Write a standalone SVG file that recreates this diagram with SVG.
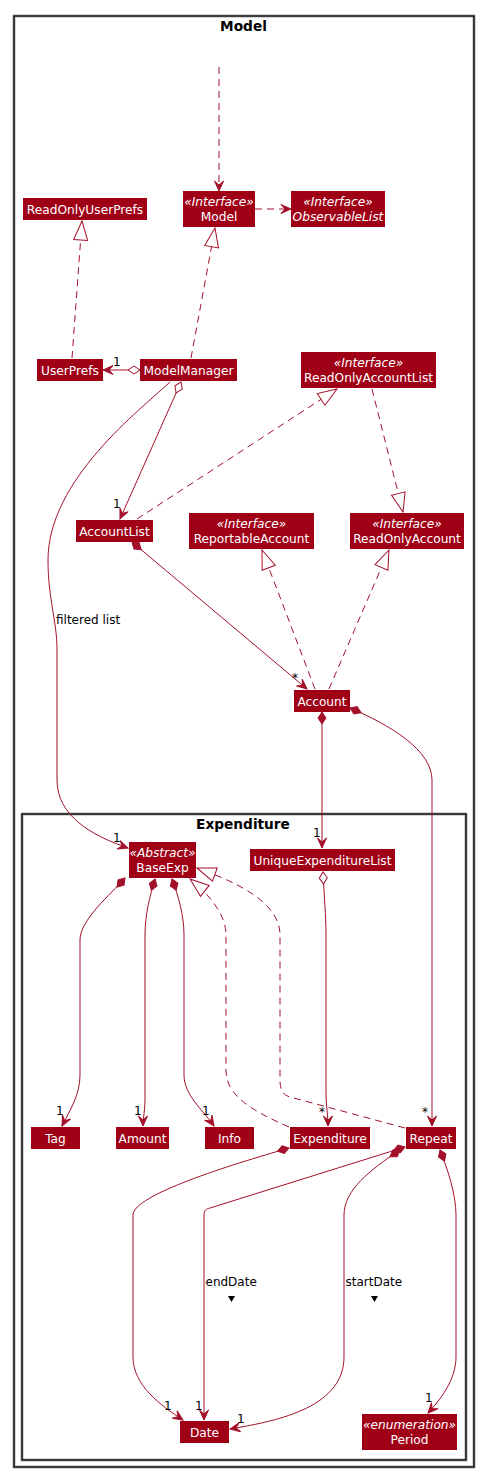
<svg xmlns="http://www.w3.org/2000/svg" width="483" height="1477" viewBox="0 0 483 1477">
<style>
.n{fill:#A00016}
.t{font-family:"DejaVu Sans","Liberation Sans",sans-serif;font-size:12.2px;fill:#fff;text-anchor:middle}
.i{font-style:italic}
.e{fill:none;stroke:#A3102A;stroke-width:1}
.d{stroke-dasharray:7,5}
.lb{font-family:"DejaVu Sans","Liberation Sans",sans-serif;font-size:12px;fill:#000}
.ti{font-family:"DejaVu Sans","Liberation Sans",sans-serif;font-size:13.7px;font-weight:bold;fill:#000;text-anchor:middle}
.fr{fill:none;stroke:#000;stroke-width:1.3}
.frs{fill:none;stroke:#aaa;stroke-width:3}
.ca{marker-end:url(#arr)}
.ct{marker-end:url(#tri)}
.cd{marker-start:url(#dia)}
.co{marker-start:url(#odia)}
</style>
<defs>
<marker id="arr" markerUnits="userSpaceOnUse" orient="auto" overflow="visible" markerWidth="1" markerHeight="1"><path d="M0,0 L-10,-4.5 L-6,0 L-10,4.5 Z" fill="#A3102A" stroke="#A3102A" stroke-width="1"/></marker>
<marker id="tri" markerUnits="userSpaceOnUse" orient="auto" overflow="visible" markerWidth="1" markerHeight="1"><path d="M0,0 L-19,-7 L-19,7 Z" fill="#fff" stroke="#A3102A" stroke-width="1"/></marker>
<marker id="dia" markerUnits="userSpaceOnUse" orient="auto" overflow="visible" markerWidth="1" markerHeight="1"><path d="M0,0 L6,-4 L12,0 L6,4 Z" fill="#A3102A" stroke="#A3102A" stroke-width="1"/></marker>
<marker id="odia" markerUnits="userSpaceOnUse" orient="auto" overflow="visible" markerWidth="1" markerHeight="1"><path d="M0,0 L6,-4 L12,0 L6,4 Z" fill="#fff" stroke="#A3102A" stroke-width="1"/></marker>
</defs>

<g id="frame-model">
<rect class="frs" x="14" y="16" width="460" height="1451"/>
<rect class="fr" x="14" y="16" width="460" height="1451"/>
<text class="ti" x="243.5" y="31">Model</text>
</g>
<g id="frame-expenditure">
<rect class="frs" x="22" y="814" width="444" height="646"/>
<rect class="fr" x="22" y="814" width="444" height="646"/>
<text class="ti" x="243" y="829">Expenditure</text>
</g>

<g id="connectors">
<path class="e d ca" d="M219,67 L219,191"/>
<path class="e d ca" d="M255,209 L291,209"/>
<path class="e d ct" d="M72,358 L82,221"/>
<path class="e d ct" d="M191,358 L215,228"/>
<path class="e co ca" d="M140,370 L103,370"/>
<path class="e co ca" d="M181,382 L120,519"/>
<path class="e ca" d="M170,382 C140,410 48,480 48,560 C48,600 57,620 57,650 L57,780 C57,815 90,835 128,848"/>
<path class="e d ct" d="M137,519 L337,389"/>
<path class="e d ct" d="M372,389 L403,512"/>
<path class="e cd ca" d="M132,542 L307,689"/>
<path class="e d ct" d="M315,689 L262,550"/>
<path class="e d ct" d="M329,689 L389,550"/>
<path class="e cd ca" d="M322,712 L322,848"/>
<path class="e cd ca" d="M350,708 C390,725 432,750 432,780 L432,1126"/>
<path class="e cd ca" d="M125,878 C110,895 80,920 80,940 L80,1075 C80,1095 70,1110 62,1126"/>
<path class="e cd ca" d="M155,879 C150,895 145,915 145,935 L145,1100 C145,1110 143,1118 143,1126"/>
<path class="e cd ca" d="M172,879 C178,895 184,915 184,935 L184,1075 C184,1095 203,1110 214,1126"/>
<path class="e d ct" d="M289,1127 C250,1110 226,1095 226,1070 L226,935 C226,915 210,895 190,879"/>
<path class="e d ct" d="M405,1128 L290,1097 C283,1095 280,1090 280,1080 L280,935 C280,900 230,880 197,868"/>
<path class="e co ca" d="M323,872 C324,895 326,915 326,935 L326,1095 C326,1105 328,1115 328,1126"/>
<path class="e cd ca" d="M289,1148 C230,1165 133,1195 133,1215 L133,1357 C133,1385 160,1405 183,1420"/>
<path class="e cd ca" d="M405,1147 L210,1208 C206,1209 204,1210 204,1215 L204,1420"/>
<path class="e cd ca" d="M400,1150 C370,1170 344,1190 344,1215 L344,1357 C344,1410 270,1422 230,1429"/>
<path class="e cd ca" d="M440,1150 C448,1170 456,1195 456,1215 L456,1357 C456,1380 440,1400 428,1413"/>
<polygon points="228,1296 235,1296 231.5,1302" fill="#000"/>
<polygon points="371,1296 378,1296 374.5,1302" fill="#000"/>
<text class="lb" x="113" y="366">1</text>
<text class="lb" x="113" y="508">1</text>
<text class="lb" x="113" y="842">1</text>
<text class="lb" x="56" y="624">filtered list</text>
<text class="lb" x="292" y="682">*</text>
<text class="lb" x="313" y="837">1</text>
<text class="lb" x="422" y="1116">*</text>
<text class="lb" x="56" y="1115">1</text>
<text class="lb" x="134" y="1115">1</text>
<text class="lb" x="202" y="1115">1</text>
<text class="lb" x="319" y="1116">*</text>
<text class="lb" x="164" y="1410">1</text>
<text class="lb" x="195" y="1410">1</text>
<text class="lb" x="237" y="1423">1</text>
<text class="lb" x="425" y="1402">1</text>
<text class="lb" x="205.5" y="1286">endDate</text>
<text class="lb" x="345.5" y="1286">startDate</text>
</g>

<g id="ReadOnlyUserPrefs"><rect class="n" x="23" y="198" width="124" height="22"/><text class="t" x="85" y="214">ReadOnlyUserPrefs</text></g>
<g id="Model"><rect class="n" x="183" y="191" width="72" height="36"/><text class="t i" x="219" y="206">«Interface»</text><text class="t" x="219" y="220.5">Model</text></g>
<g id="ObservableList"><rect class="n" x="291" y="191" width="94" height="36"/><text class="t i" x="338" y="206">«Interface»</text><text class="t i" x="338" y="220.5">ObservableList</text></g>
<g id="UserPrefs"><rect class="n" x="37" y="359" width="66" height="22"/><text class="t" x="70" y="375">UserPrefs</text></g>
<g id="ModelManager"><rect class="n" x="140" y="359" width="97" height="22"/><text class="t" x="188.5" y="375">ModelManager</text></g>
<g id="ReadOnlyAccountList"><rect class="n" x="301" y="352" width="135" height="36"/><text class="t i" x="368.5" y="367">«Interface»</text><text class="t" x="368.5" y="381.5">ReadOnlyAccountList</text></g>
<g id="AccountList"><rect class="n" x="76" y="520" width="77" height="22"/><text class="t" x="114.5" y="536">AccountList</text></g>
<g id="ReportableAccount"><rect class="n" x="189" y="513" width="125" height="36"/><text class="t i" x="251.5" y="528">«Interface»</text><text class="t" x="251.5" y="542.5">ReportableAccount</text></g>
<g id="ReadOnlyAccount"><rect class="n" x="350" y="513" width="114" height="36"/><text class="t i" x="407" y="528">«Interface»</text><text class="t" x="407" y="542.5">ReadOnlyAccount</text></g>
<g id="Account"><rect class="n" x="294" y="690" width="56" height="22"/><text class="t" x="322" y="706">Account</text></g>
<g id="BaseExp"><rect class="n" x="129" y="842" width="67" height="36"/><text class="t i" x="162.5" y="857">«Abstract»</text><text class="t" x="162.5" y="871.5">BaseExp</text></g>
<g id="UniqueExpenditureList"><rect class="n" x="250" y="849" width="145" height="22"/><text class="t" x="322.5" y="865">UniqueExpenditureList</text></g>
<g id="Tag"><rect class="n" x="31" y="1127" width="49" height="22"/><text class="t" x="55.5" y="1143">Tag</text></g>
<g id="Amount"><rect class="n" x="116" y="1127" width="53" height="22"/><text class="t" x="142.5" y="1143">Amount</text></g>
<g id="Info"><rect class="n" x="205" y="1127" width="49" height="22"/><text class="t" x="229.5" y="1143">Info</text></g>
<g id="Expenditure"><rect class="n" x="290" y="1127" width="80" height="22"/><text class="t" x="330" y="1143">Expenditure</text></g>
<g id="Repeat"><rect class="n" x="406" y="1127" width="50" height="22"/><text class="t" x="431" y="1143">Repeat</text></g>
<g id="Date"><rect class="n" x="180" y="1421" width="49" height="22"/><text class="t" x="204.5" y="1437">Date</text></g>
<g id="Period"><rect class="n" x="362" y="1414" width="95" height="36"/><text class="t i" x="409.5" y="1429">«enumeration»</text><text class="t" x="409.5" y="1443.5">Period</text></g>
</svg>
